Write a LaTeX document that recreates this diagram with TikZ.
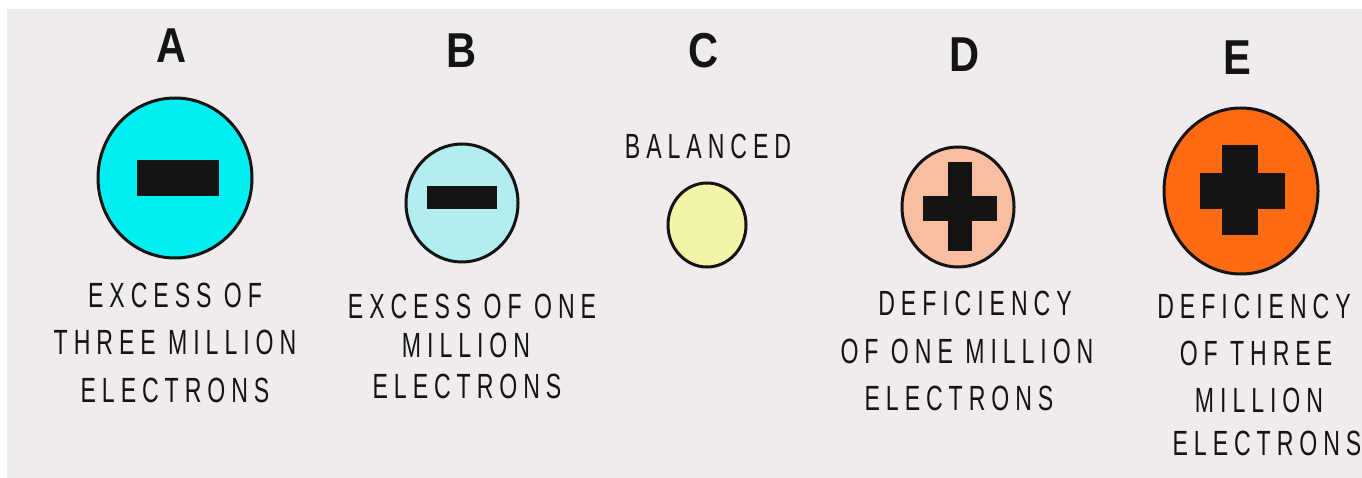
\documentclass[tikz,border=0pt]{standalone}
\usepackage{fontspec}
\newfontfamily\lblfont[FakeStretch=0.66,LetterSpace=17]{Liberation Sans}
\newfontfamily\capfont[FakeStretch=0.85]{Liberation Sans}
\definecolor{bgc}{HTML}{EFEBEE}
\definecolor{cA}{HTML}{00F0F2}
\definecolor{cB}{HTML}{B2EEF0}
\definecolor{cC}{HTML}{F2F5A8}
\definecolor{cD}{HTML}{F8BEA2}
\definecolor{cE}{HTML}{FF6A12}
\definecolor{ink}{HTML}{141414}
\usetikzlibrary{shapes.geometric}
\tikzset{
  lbl/.style={anchor=base, inner sep=0pt, text=ink, font=\lblfont\fontsize{35}{35}\selectfont},
  head/.style={anchor=base, inner sep=0pt, text=ink, font=\capfont\bfseries\fontsize{49}{49}\selectfont},
  ball/.style={draw=ink, line width=3pt, ellipse, inner sep=0pt},
  bar/.style={fill=ink, draw=none, rectangle, inner sep=0pt}
}
\begin{document}
\begin{tikzpicture}[x=1pt,y=-1pt]
\useasboundingbox (0,0) rectangle (1362,478);
\fill[white] (0,0) rectangle (1362,478);
\fill[bgc] (7,9) rectangle (1362,478);

% headings
\node[head] (hA) at (172,63) {A};
\node[head] (hB) at (462,68) {B};
\node[head] (hC) at (704,68) {C};
\node[head] (hD) at (965,72) {D};
\node[head] (hE) at (1237,75) {E};

% A
\node[ball, fill=cA, minimum width=154pt, minimum height=160pt] (bA) at (175,178) {};
\node[bar, minimum width=82pt, minimum height=36pt] (mA) at (178,178) {};
\node[lbl] (a1) at (175,307) {EXCESS OF};
\node[lbl] (a2) at (175,354) {THREE MILLION};
\node[lbl] (a3) at (175,402) {ELECTRONS};

% B
\node[ball, fill=cB, minimum width=112pt, minimum height=118pt] (bB) at (462,203) {};
\node[bar, minimum width=70pt, minimum height=23pt] (mB) at (462,198) {};
\node[lbl] (b1) at (472,318) {EXCESS OF ONE};
\node[lbl] (b2) at (466,357) {MILLION};
\node[lbl] (b3) at (467,398) {ELECTRONS};

% C
\node[lbl] (c1) at (708,159) {BALANCED};
\node[ball, fill=cC, minimum width=78pt, minimum height=84pt] (bC) at (707,225) {};

% D
\node[ball, fill=cD, minimum width=112pt, minimum height=120pt] (bD) at (958,207) {};
\node[bar, minimum width=74pt, minimum height=25pt] (pDh) at (960,209) {};
\node[bar, minimum width=24pt, minimum height=89pt] (pDv) at (960,207) {};
\node[lbl] (d1) at (975,315) {DEFICIENCY};
\node[lbl] (d2) at (967,363) {OF ONE MILLION};
\node[lbl] (d3) at (959,410) {ELECTRONS};

% E
\node[ball, fill=cE, minimum width=154pt, minimum height=166pt] (bE) at (1241,191) {};
\node[bar, minimum width=85pt, minimum height=36pt] (pEh) at (1242,191) {};
\node[bar, minimum width=36pt, minimum height=90pt] (pEv) at (1240,190) {};
\node[lbl] (e1) at (1254,318) {DEFICIENCY};
\node[lbl] (e2) at (1256,365) {OF THREE};
\node[lbl] (e3) at (1259,412) {MILLION};
\node[lbl] (e4) at (1267,455) {ELECTRONS};
\end{tikzpicture}
\end{document}
